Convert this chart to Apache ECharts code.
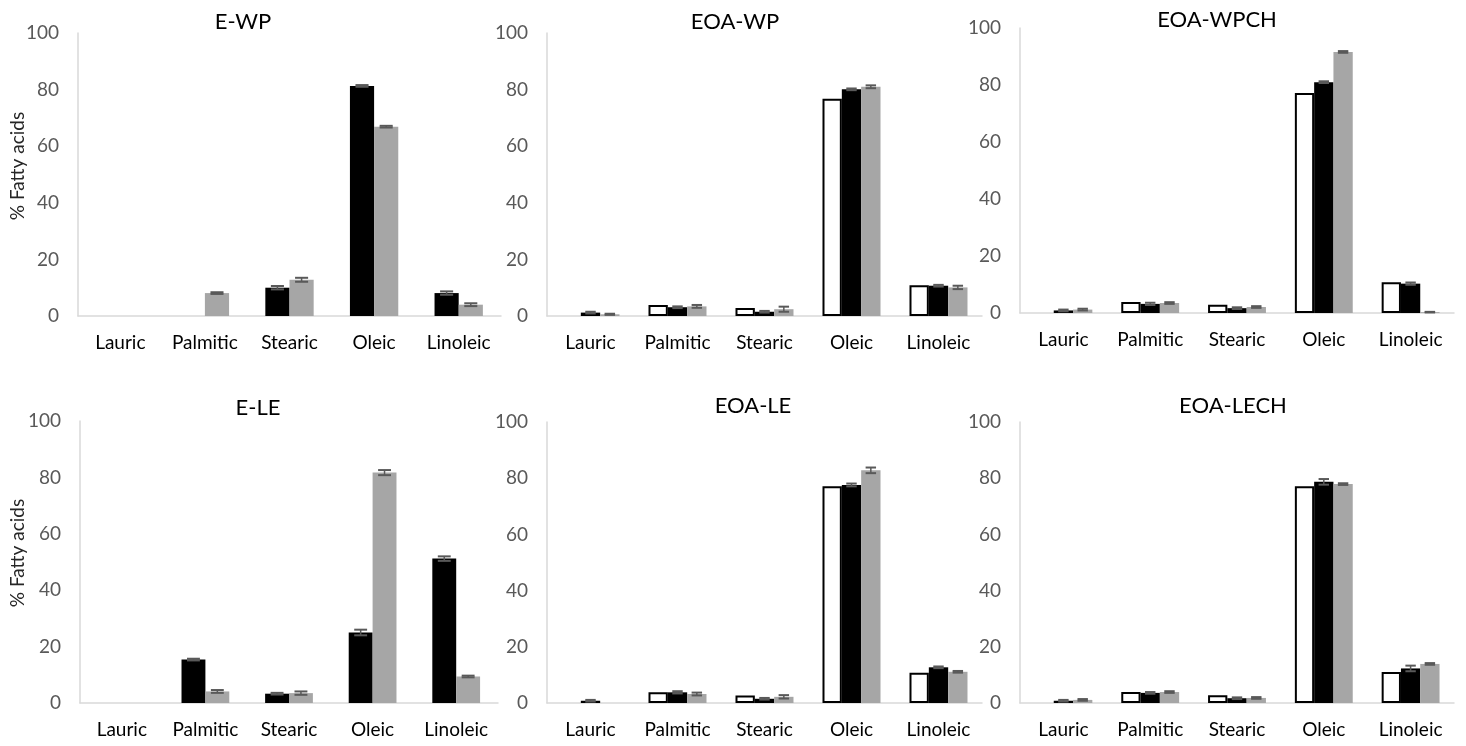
<!DOCTYPE html>
<html><head><meta charset="utf-8">
<script src="https://cdn.jsdelivr.net/npm/echarts@6/dist/echarts.min.js"></script>
<style>html,body{margin:0;padding:0;background:#fff}#c{width:1466px;height:746px}</style>
</head><body><div id="c"></div>
<script>
const categories = ['Lauric', 'Palmitic', 'Stearic', 'Oleic', 'Linoleic'];
const yTicks = [0, 20, 40, 60, 80, 100];
const panelTitles = ['E-WP', 'EOA-WP', 'EOA-WPCH', 'E-LE', 'EOA-LE', 'EOA-LECH'];
const yAxisTitle = '% Fatty acids';

// E-WP (two series: black, gray)
const ewpBlack = [0, 0, 10.0, 81.3, 8.1];
const ewpBlackErr = [0, 0, 0.6, 0.3, 0.6];
const ewpGray = [0, 8.1, 12.8, 66.9, 4.0];
const ewpGrayErr = [0, 0.3, 0.7, 0.3, 0.5];

// EOA-WP (white, black, gray)
const eoawpWhite = [0, 3.9, 2.8, 76.8, 10.9];
const eoawpBlack = [1.2, 3.1, 1.5, 80.1, 10.7];
const eoawpBlackErr = [0.3, 0.3, 0.3, 0.3, 0.3];
const eoawpGray = [0.6, 3.4, 2.4, 81.0, 10.1];
const eoawpGrayErr = [0.2, 0.5, 0.9, 0.5, 0.6];

// EOA-WPCH
const eoawpchWhite = [0, 3.9, 2.9, 77.2, 10.8];
const eoawpchBlack = [0.9, 3.2, 1.7, 81.0, 10.3];
const eoawpchBlackErr = [0.3, 0.4, 0.3, 0.3, 0.4];
const eoawpchGray = [1.2, 3.5, 2.1, 91.6, 0.3];
const eoawpchGrayErr = [0.3, 0.3, 0.3, 0.3, 0.1];

// E-LE (two series: black, gray)
const eleBlack = [0, 15.4, 3.3, 25.0, 51.2];
const eleBlackErr = [0, 0.3, 0.3, 1.0, 0.8];
const eleGray = [0, 4.1, 3.5, 81.7, 9.4];
const eleGrayErr = [0, 0.5, 0.6, 0.9, 0.3];

// EOA-LE
const eoaleWhite = [0, 3.8, 2.7, 77.1, 10.8];
const eoaleBlack = [0.8, 3.8, 1.5, 77.6, 12.7];
const eoaleBlackErr = [0.3, 0.4, 0.3, 0.5, 0.3];
const eoaleGray = [0, 3.2, 2.2, 82.8, 11.1];
const eoaleGrayErr = [0, 0.5, 0.6, 1.0, 0.3];

// EOA-LECH
const eoalechWhite = [0, 3.9, 2.8, 77.1, 11.0];
const eoalechBlack = [0.8, 3.6, 1.7, 78.7, 12.3];
const eoalechBlackErr = [0.3, 0.3, 0.3, 1.0, 1.0];
const eoalechGray = [1.1, 3.9, 1.8, 77.9, 13.9];
const eoalechGrayErr = [0.3, 0.3, 0.3, 0.3, 0.3];

const panels = [
  { white: null, black: ewpBlack, blackErr: ewpBlackErr, gray: ewpGray, grayErr: ewpGrayErr },
  { white: eoawpWhite, black: eoawpBlack, blackErr: eoawpBlackErr, gray: eoawpGray, grayErr: eoawpGrayErr },
  { white: eoawpchWhite, black: eoawpchBlack, blackErr: eoawpchBlackErr, gray: eoawpchGray, grayErr: eoawpchGrayErr },
  { white: null, black: eleBlack, blackErr: eleBlackErr, gray: eleGray, grayErr: eleGrayErr },
  { white: eoaleWhite, black: eoaleBlack, blackErr: eoaleBlackErr, gray: eoaleGray, grayErr: eoaleGrayErr },
  { white: eoalechWhite, black: eoalechBlack, blackErr: eoalechBlackErr, gray: eoalechGray, grayErr: eoalechGrayErr }
];

// layout (pixels)
const gridBoxes = [
  { left: 78, top: 33, width: 423, height: 283 },
  { left: 547, top: 33, width: 435, height: 283 },
  { left: 1020, top: 28, width: 434, height: 285 },
  { left: 80, top: 421, width: 418, height: 282 },
  { left: 547, top: 422, width: 435, height: 281 },
  { left: 1020, top: 422, width: 434, height: 281 }
];
const titlePos = [[243, 22], [735, 22], [1217, 20], [258, 408], [753, 406], [1233, 406]];
const yNamePos = [[18, 166], [18, 553]];

const FONT = 'Lato, "Open Sans", sans-serif';

function errRender(n, idx, gapFrac) {
  return function (params, api) {
    const c = api.value(0), v = api.value(1), e = api.value(2);
    if (!e) return null;
    const band = api.size([1, 0])[0];
    const bw = band * (1 - gapFrac) / n;
    const base = api.coord([c, v]);
    const x = base[0] + (idx - (n - 1) / 2) * bw;
    const top = api.coord([c, v + e])[1];
    const bot = api.coord([c, Math.max(0, v - e)])[1];
    const cap = bw * 0.27;
    const st = { stroke: '#595959', lineWidth: 2 };
    return {
      type: 'group', children: [
        { type: 'line', shape: { x1: x, y1: top, x2: x, y2: bot }, style: { stroke: '#595959', lineWidth: 1.5 } },
        { type: 'line', shape: { x1: x - cap, y1: top, x2: x + cap, y2: top }, style: st },
        { type: 'line', shape: { x1: x - cap, y1: bot, x2: x + cap, y2: bot }, style: st }
      ]
    };
  };
}

const grid = [], xAxis = [], yAxis = [], series = [], graphic = [];
panels.forEach((p, i) => {
  grid.push(Object.assign({ containLabel: false }, gridBoxes[i]));
  xAxis.push({
    type: 'category', gridIndex: i, data: categories,
    axisLine: { show: true, lineStyle: { color: '#d9d9d9', width: 1.5 } },
    axisTick: { show: false },
    axisLabel: { interval: 0, color: '#000', fontSize: 19, fontFamily: FONT, margin: 17 },
    splitLine: { show: false }
  });
  yAxis.push({
    type: 'value', gridIndex: i, min: yTicks[0], max: yTicks[yTicks.length - 1], interval: yTicks[1] - yTicks[0],
    axisLine: { show: true, lineStyle: { color: '#d9d9d9', width: 1.5 } },
    axisTick: { show: false },
    splitLine: { show: false },
    axisLabel: { color: '#595959', fontSize: 19, fontFamily: FONT, margin: 19 }
  });

  const list = [];
  if (p.white) list.push({ data: p.white, err: null, color: '#ffffff', border: true });
  list.push({ data: p.black, err: p.blackErr, color: '#000000', border: false });
  list.push({ data: p.gray, err: p.grayErr, color: '#a6a6a6', border: false });
  const n = list.length;
  const gapFrac = 1.5 / (n + 1.5);
  list.forEach((s) => {
    series.push({
      type: 'bar', xAxisIndex: i, yAxisIndex: i,
      data: s.data.map(v => (s.border && v === 0) ? '-' : v),
      barGap: '0%', barCategoryGap: (gapFrac * 100).toFixed(2) + '%',
      itemStyle: s.border ? { color: '#ffffff', borderColor: '#000', borderWidth: 2 } : { color: s.color },
      silent: true, animation: false
    });
  });
  list.forEach((s, k) => {
    if (!s.err) return;
    series.push({
      type: 'custom', xAxisIndex: i, yAxisIndex: i,
      data: s.data.map((v, j) => [j, v, s.err[j]]),
      encode: { x: 0, y: 1 },
      renderItem: errRender(n, k, gapFrac), z: 5, silent: true, animation: false
    });
  });
  graphic.push({
    type: 'text', x: titlePos[i][0], y: titlePos[i][1],
    style: { text: panelTitles[i], fill: '#000', fontSize: 22, fontFamily: FONT, align: 'center', verticalAlign: 'middle' }
  });
});
yNamePos.forEach(pos => {
  graphic.push({
    type: 'text', x: pos[0], y: pos[1], rotation: Math.PI / 2,
    style: { text: yAxisTitle, fill: '#262626', fontSize: 19, fontFamily: FONT, align: 'center', verticalAlign: 'middle' }
  });
});

const chart = echarts.init(document.getElementById('c'), null, { renderer: 'canvas' });
chart.setOption({ animation: false, backgroundColor: '#fff', grid, xAxis, yAxis, series, graphic });
</script></body></html>
